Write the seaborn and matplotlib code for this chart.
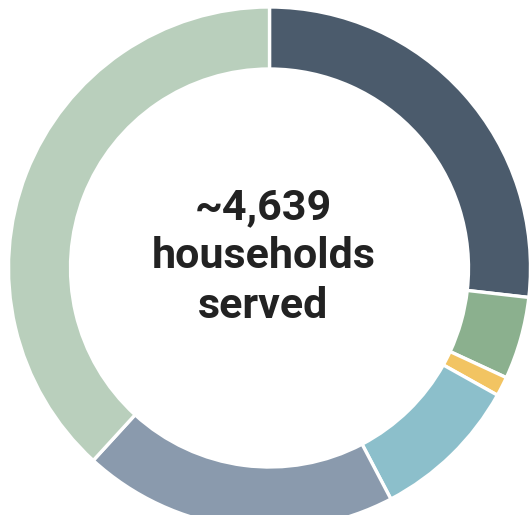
import matplotlib
matplotlib.use("Agg")
import matplotlib.pyplot as plt
import seaborn as sns

categories = ["Segment A", "Segment B", "Segment C", "Segment D", "Segment E", "Segment F"]
shares = [26.8, 5.1, 1.2, 9.2, 19.5, 38.2]
colors = ["#4b5b6c", "#8bb08e", "#f2c462", "#8cbfcb", "#8a9aad", "#b9cfbc"]
center_label = "~4,639\nhouseholds\nserved"

sns.set_theme(style="white")
plt.rcParams["font.family"] = ["Roboto", "DejaVu Sans"]

fig = plt.figure(figsize=(5.31, 5.15), dpi=100)
ax = fig.add_axes([0, 0, 1, 1])

cx, cy, r = 269.5, 515 - 268, 261
ax.pie(shares, colors=colors, startangle=90, counterclock=False,
       radius=r, center=(cx, cy), frame=True,
       wedgeprops=dict(width=62, edgecolor="white", linewidth=2.4))
ax.set_xlim(0, 531)
ax.set_ylim(0, 515)
ax.set_aspect("auto")
ax.axis("off")

ax.text(cx - 6, cy + 11, center_label, ha="center", va="center", fontsize=31,
        fontweight="bold", color="#222222", linespacing=1.25)

fig.savefig("out.png", dpi=100)
